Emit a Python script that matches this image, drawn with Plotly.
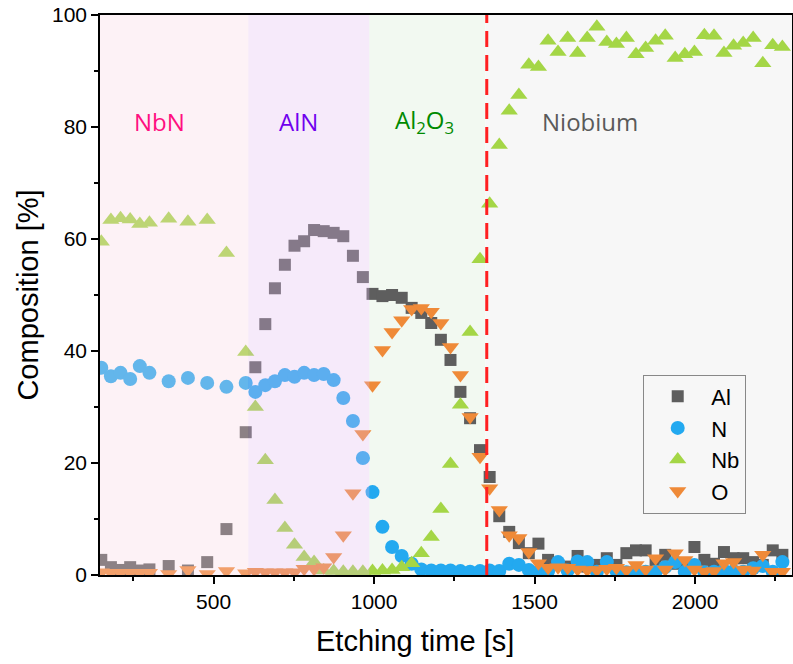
import plotly.graph_objects as go

# ---- data ----
time_s = [150, 180, 210, 240, 270, 300, 360, 420, 480, 540,
          600, 630, 661, 691, 722, 752, 782, 813, 843, 874,
          904, 934, 965, 995, 1026, 1056, 1086, 1117, 1147, 1178,
          1208, 1238, 1269, 1299, 1330, 1360, 1390, 1421, 1451, 1482,
          1512, 1542, 1573, 1603, 1634, 1664, 1694, 1725, 1755, 1786,
          1816, 1846, 1877, 1907, 1938, 1968, 1998, 2029, 2059, 2090,
          2120, 2150, 2181, 2211, 2242, 2272]

al = [2.7, 1.4, 0.9, 1.4, 0.8, 1.0, 1.6, 0.8, 2.3, 8.2,
      25.5, 37.1, 44.8, 51.2, 55.4, 58.8, 59.6, 61.6, 61.4, 61.1,
      60.5, 57.0, 53.2, 50.2, 49.8, 50.0, 49.5, 47.7, 46.8, 45.0,
      42.0, 38.4, 32.7, 28.0, 22.3, 17.5, 10.5, 7.7, 5.7, 3.9,
      5.6, 2.7, 1.8, 1.5, 3.4, 1.5, 1.8, 3.0, 1.8, 3.9,
      4.4, 4.4, 2.5, 3.6, 2.0, 1.5, 5.0, 2.7, 2.0, 4.1,
      3.0, 3.0, 2.3, 1.8, 4.4, 3.6]

n = [37.0, 35.5, 36.1, 35.0, 37.3, 36.1, 34.6, 35.2, 34.3, 33.6,
     34.3, 32.7, 33.9, 34.6, 35.7, 35.4, 36.1, 35.7, 35.9, 34.8,
     31.6, 27.5, 20.9, 14.8, 8.6, 5.0, 3.4, 2.0, 1.0, 0.8,
     0.8, 0.8, 0.7, 0.6, 0.7, 0.8, 0.7, 2.0, 1.8, 0.9,
     0.6, 0.7, 2.3, 0.8, 2.4, 2.3, 0.6, 2.3, 0.7, 0.5,
     0.8, 0.6, 0.6, 1.4, 2.3, 0.6, 1.8, 0.5, 0.6, 0.8,
     0.7, 0.6, 1.2, 1.6, 0.6, 2.3]

nb = [59.5, 63.4, 63.7, 63.5, 62.7, 62.9, 63.6, 63.1, 63.4, 57.5,
      39.8, 30.0, 20.5, 13.4, 8.4, 5.4, 3.2, 2.3, 0.8, 0.7,
      0.6, 0.6, 0.6, 0.7, 0.8, 0.9, 1.4, 2.1, 3.9, 6.8,
      11.8, 19.8, 30.4, 43.4, 56.4, 66.3, 76.8, 82.9, 85.7, 91.1,
      90.7, 95.4, 93.4, 95.9, 93.2, 95.9, 97.9, 95.2, 94.8, 95.9,
      93.0, 94.1, 95.4, 96.3, 92.3, 93.0, 93.4, 96.4, 96.3, 93.2,
      94.5, 95.0, 95.9, 91.4, 94.6, 94.3]

o = [0.5, 0.4, 0.4, 0.4, 0.4, 0.4, 0.2, 0.9, 0.2, 0.7,
     0.3, 0.6, 0.5, 0.5, 0.5, 0.5, 1.1, 1.1, 1.4, 3.2,
     7.1, 14.6, 25.2, 33.9, 40.2, 43.4, 45.5, 47.5, 47.7, 47.0,
     45.0, 40.7, 35.7, 28.2, 21.1, 15.5, 11.6, 7.1, 6.6, 4.1,
     2.1, 1.3, 1.4, 1.3, 1.0, 0.9, 0.9, 1.1, 1.3, 0.9,
     1.8, 1.0, 3.0, 1.0, 3.9, 2.7, 1.0, 0.6, 0.7, 2.1,
     2.3, 1.0, 0.8, 3.6, 0.6, 0.6]

region_names = ["NbN", "AlN", "Al<sub>2</sub>O<sub>3</sub>", "Niobium"]
region_bounds = [(146, 608), (608, 985), (985, 1347), (1347, 2302)]
region_label_x = [330, 765, 1158, 1673]
region_label_y = [81, 81, 81, 81]
interface_time = 1351

x_range = [146, 2302]
y_range = [0, 100]
x_ticks = [500, 1000, 1500, 2000]
y_ticks = [0, 20, 40, 60, 80, 100]
x_title = "Etching time [s]"
y_title = "Composition [%]"

# ---- styles ----
series = [
    ("Al", al, "square", "#5e5e5e", 12),
    ("N", n, "circle", "#23a9f0", 14),
    ("Nb", nb, "triangle-up", "#a4d646", 15),
    ("O", o, "triangle-down", "#ef8a38", 15),
]
region_fill = ["rgba(248,212,225,0.3)", "rgba(225,185,238,0.3)", "#f2f9f1", "#f7f7f7"]
region_layer = ["above", "above", "below", "below"]
label_colors = ["#ff1080", "#7000ee", "#008a00", "#5a5a5a"]

fig = go.Figure()
for name, vals, sym, col, sz in series:
    fig.add_trace(go.Scatter(
        x=time_s, y=vals, mode="markers", name=name,
        marker=dict(symbol=sym, color=col, size=sz, line=dict(width=0)),
    ))

for (x0, x1), fill, layer in zip(region_bounds, region_fill, region_layer):
    fig.add_shape(type="rect", xref="x", yref="y", x0=x0, x1=x1, y0=y_range[0], y1=y_range[1],
                  fillcolor=fill, line=dict(width=0), layer=layer)

fig.add_shape(type="line", xref="x", yref="y", x0=interface_time, x1=interface_time,
              y0=y_range[0], y1=y_range[1], line=dict(color="#ff2020", width=3, dash="16px,8px"),
              layer="above")

for name, lx, ly, c in zip(region_names, region_label_x, region_label_y, label_colors):
    fig.add_annotation(x=lx, y=ly, xref="x", yref="y", text=name, showarrow=False,
                       font=dict(family="Open Sans, Noto Sans, sans-serif", size=24, color=c))

arial = "Liberation Sans, Arial, sans-serif"

# x-axis title (placed slightly left of the axis centre, as in the reference)
fig.add_annotation(x=0.455, y=-0.117, xref="paper", yref="paper", text=x_title,
                   showarrow=False, xanchor="center", yanchor="middle",
                   font=dict(family=arial, size=29, color="black"))

fig.update_layout(
    width=793, height=664,
    margin=dict(l=100, r=1, t=15, b=89, autoexpand=False),
    paper_bgcolor="white", plot_bgcolor="white",
    font=dict(family=arial, color="black"),
    showlegend=True,
    legend=dict(x=0.785, y=0.358, xanchor="left", yanchor="top",
                bgcolor="rgba(0,0,0,0)", bordercolor="#888888", borderwidth=1,
                font=dict(family=arial, size=22, color="black"),
                itemwidth=57, tracegroupgap=0, entrywidth=45, entrywidthmode="pixels"),
    xaxis=dict(range=x_range, tickvals=x_ticks, showgrid=False, zeroline=False, automargin=False,
               showline=True, linecolor="black", linewidth=1.5, mirror=True,
               ticks="outside", ticklen=7, tickwidth=1.5, tickcolor="black",
               minor=dict(dtick=250, tick0=0, ticks="outside", ticklen=4, tickwidth=1.5, tickcolor="black"),
               tickfont=dict(size=21), ticklabeloverflow="allow"),
    yaxis=dict(range=y_range, tickvals=y_ticks, showgrid=False, zeroline=False, automargin=False,
               showline=True, linecolor="black", linewidth=1.5, mirror=True,
               ticks="outside", ticklen=7, tickwidth=1.5, tickcolor="black",
               minor=dict(dtick=10, tick0=0, ticks="outside", ticklen=4, tickwidth=1.5, tickcolor="black"),
               tickfont=dict(size=21), ticklabeloverflow="allow",
               title=dict(text=y_title, font=dict(size=29), standoff=5)),
)

# remove the default 8px page margin so the 793x664 figure fills the window exactly
fig.write_html("out.html",
               config={"displayModeBar": False},
               post_script="document.body.style.margin='0';document.body.style.overflow='hidden';")
